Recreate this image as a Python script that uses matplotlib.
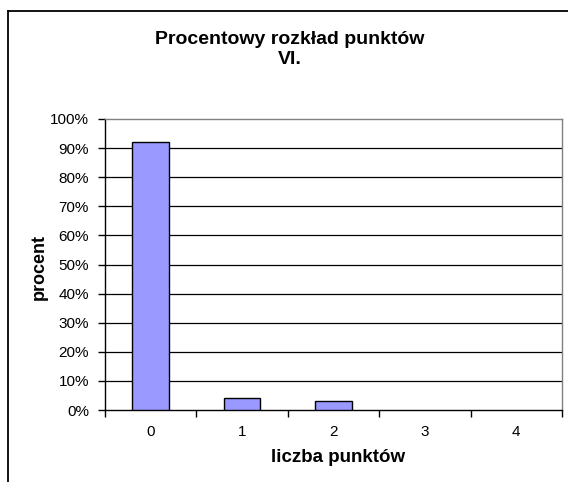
import matplotlib
matplotlib.use("Agg")
import matplotlib.pyplot as plt
from matplotlib.lines import Line2D
from matplotlib.ticker import FuncFormatter

categories = ["0", "1", "2", "3", "4"]
percent = [92, 4, 3, 0, 0]
yticks = [0, 10, 20, 30, 40, 50, 60, 70, 80, 90, 100]

plt.rcParams['font.family'] = ['Liberation Sans', 'DejaVu Sans']

W, H = 568, 482
fig = plt.figure(figsize=(W / 100, H / 100), dpi=100)
fig.patch.set_facecolor('white')

# outer chart frame (partially cut off in the original)
fig.add_artist(Line2D([8 / W, 8 / W], [0, 1 - 11 / H], transform=fig.transFigure,
                      color='black', lw=1.3))
fig.add_artist(Line2D([8 / W, 1], [1 - 11 / H, 1 - 11 / H], transform=fig.transFigure,
                      color='black', lw=1.3))

ax = fig.add_axes([105 / W, 1 - 410 / H, (562 - 105) / W, (410 - 119) / H])
x = list(range(len(categories)))
# empty categories get no outline
lws = [1.0 if v > 0 else 0 for v in percent]
ax.bar(x, percent, width=0.4, color='#9999FF', edgecolor='black', linewidth=lws, zorder=3)

ax.set_xlim(-0.5, 4.5)
ax.set_ylim(0, 100)
ax.set_yticks(yticks)
ax.yaxis.set_major_formatter(FuncFormatter(lambda v, p: "%d%%" % v))
for v in yticks[1:-1]:
    ax.axhline(v, color='black', lw=0.9, zorder=1)

# ticks at category boundaries, labels at centres
ax.set_xticks([i - 0.5 for i in range(len(categories) + 1)])
ax.set_xticklabels([])
ax.set_xticks(x, minor=True)
ax.set_xticklabels(categories, minor=True)
ax.tick_params(axis='x', which='major', length=5, width=1, direction='out', color='black')
ax.tick_params(axis='x', which='minor', length=0, pad=11, labelsize=11)
ax.tick_params(axis='y', length=5, width=1, direction='out', labelsize=11, pad=6.5)

ax.spines['left'].set_color('black')
ax.spines['bottom'].set_color('black')
ax.spines['top'].set_color('#808080')
ax.spines['right'].set_color('#808080')
for s in ax.spines.values():
    s.set_linewidth(1.0)

fig.text(39 / W, 1 - 267 / H, "procent", rotation=90, ha='center', va='center',
         fontsize=13, fontweight='bold')
fig.text(338 / W, 1 - 458 / H, "liczba punktów", ha='center', va='center',
         fontsize=13.5, fontweight='bold')

fig.text(290 / W, 1 - 40 / H, "Procentowy rozkład punktów", ha='center', va='center',
         fontsize=14, fontweight='bold')
fig.text(290 / W, 1 - 60 / H, "VI.", ha='center', va='center',
         fontsize=14, fontweight='bold')

fig.savefig("out.png", dpi=100)
